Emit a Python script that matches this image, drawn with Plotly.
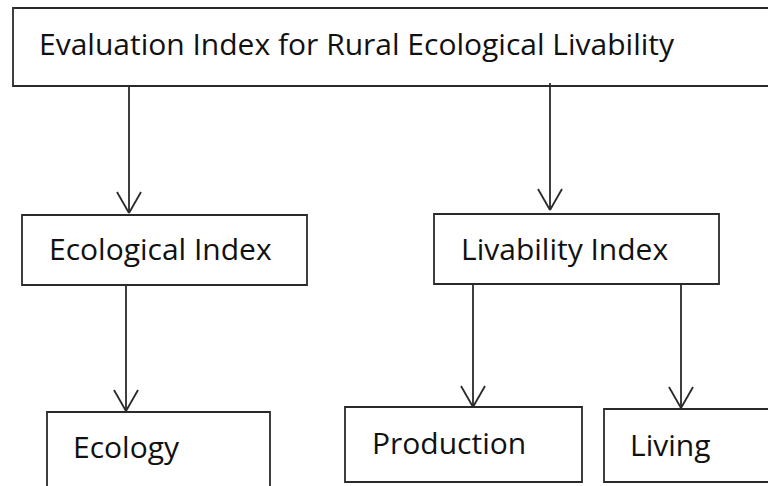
import plotly.graph_objects as go

# ---- diagram content ----
node_labels = [
    "Evaluation Index for Rural Ecological Livability",
    "Ecological Index",
    "Livability Index",
    "Ecology",
    "Production",
    "Living",
]
edge_from = [0, 0, 1, 2, 2]
edge_to = [1, 2, 3, 4, 5]

# ---- geometry (pixels, origin top-left) ----
box_x0 = [13, 22, 434, 47, 345, 604]
box_x1 = [790, 307, 719, 270, 582, 790]
box_y0 = [8, 215, 214, 412, 407, 409]
box_y1 = [86, 285, 284, 520, 482, 482]
text_x = [37, 47, 459, 71, 370, 628]
text_y = [43, 248, 248, 446, 442, 444]
arrow_x = [129, 550, 126, 473, 681]
arrow_y0 = [86, 83, 285, 284, 283]
arrow_y1 = [213, 210, 411, 407, 408]

W, H = 768, 486
LINE = dict(color="#2a2a2a", width=1.8)
FONT = dict(family="'Open Sans', Lato, sans-serif", size=30, color="#111111")

fig = go.Figure()
shapes = []
for i, lab in enumerate(node_labels):
    shapes.append(dict(type="rect", xref="x", yref="y",
                       x0=box_x0[i], x1=box_x1[i], y0=box_y0[i], y1=box_y1[i],
                       line=LINE, fillcolor="rgba(0,0,0,0)"))
for k in range(len(edge_from)):
    x = arrow_x[k]
    ya, yb = arrow_y0[k], arrow_y1[k]
    shapes.append(dict(type="line", xref="x", yref="y", x0=x, x1=x, y0=ya, y1=yb, line=LINE))
    shapes.append(dict(type="line", xref="x", yref="y", x0=x - 12, x1=x, y0=yb - 21, y1=yb, line=LINE))
    shapes.append(dict(type="line", xref="x", yref="y", x0=x + 12, x1=x, y0=yb - 21, y1=yb, line=LINE))

annotations = []
for i, lab in enumerate(node_labels):
    annotations.append(dict(x=text_x[i], y=text_y[i], xref="x", yref="y", text=lab,
                            showarrow=False, xanchor="left", yanchor="middle", font=FONT))

fig.update_layout(
    width=W, height=H,
    margin=dict(l=0, r=0, t=0, b=0),
    paper_bgcolor="white", plot_bgcolor="white",
    xaxis=dict(range=[0, W], visible=False, fixedrange=True),
    yaxis=dict(range=[H, 0], visible=False, fixedrange=True),
    shapes=shapes, annotations=annotations, showlegend=False,
)
fig.write_html("out.html", config={"displayModeBar": False},
               post_script="document.body.style.margin='0';document.body.style.overflow='hidden';")
